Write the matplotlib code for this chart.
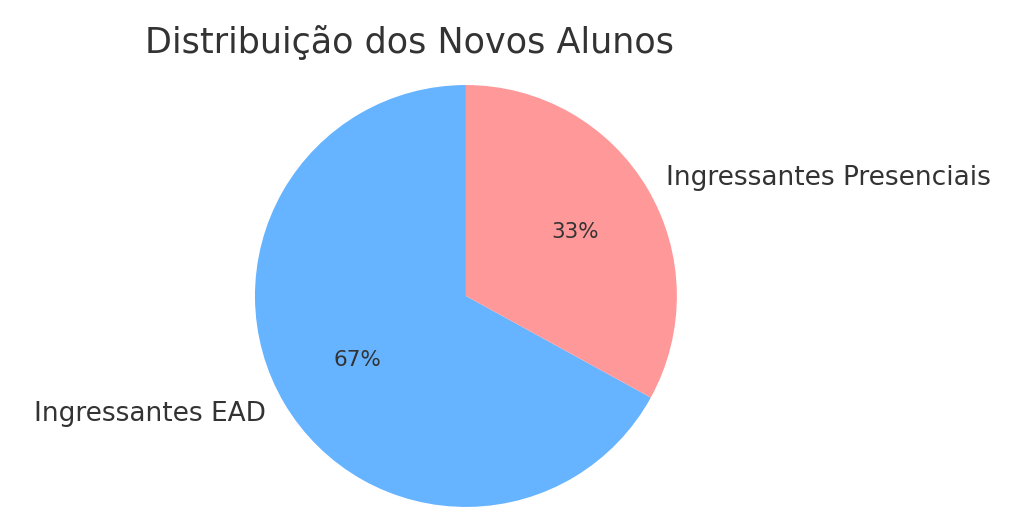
import matplotlib.pyplot as plt

# Data
labels = ['Ingressantes EAD', 'Ingressantes Presenciais']
sizes = [67, 33]
colors = ['#66b3ff', '#ff9999']

text_color = '#333333'

fig = plt.figure(figsize=(10.24, 5.31), dpi=100)
ax = fig.add_axes([0.1975, -0.0541, 0.515, 0.9934])

wedges, texts, autotexts = ax.pie(sizes, labels=labels, colors=colors,
                                  autopct='%1.0f%%', startangle=90)
ax.set_aspect('equal')

for t in texts:
    t.set_fontsize(19)
    t.set_color(text_color)
for t in autotexts:
    t.set_fontsize(15.5)
    t.set_color(text_color)

fig.text(0.40, 0.92, 'Distribuição dos Novos Alunos', fontsize=25.2,
         color=text_color, ha='center', va='center')

fig.savefig('out.png', dpi=100)
